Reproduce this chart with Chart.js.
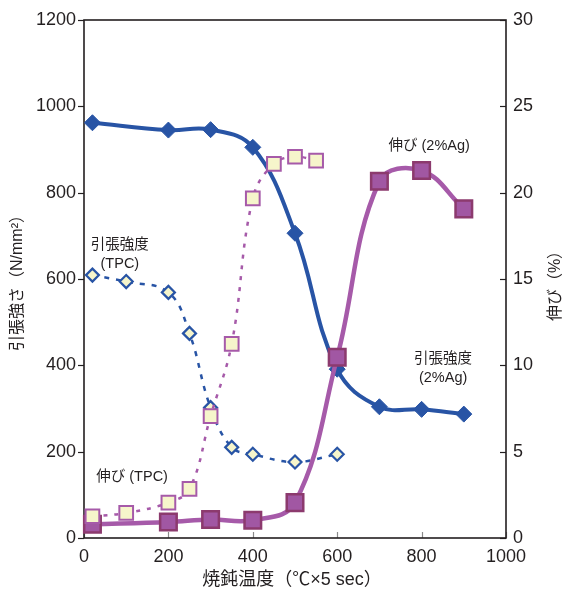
<!DOCTYPE html>
<html>
<head>
<meta charset="utf-8">
<script src="https://cdn.jsdelivr.net/npm/chart.js@4/dist/chart.umd.min.js"></script>
<style>
  html, body { margin: 0; padding: 0; background: #ffffff; }
  #wrap { width: 569px; height: 591px; position: relative; }
</style>
</head>
<body>
<div id="wrap"><canvas id="c" width="569" height="591"></canvas></div>
<script>
// Annealing temperature (°C, 5 sec hold)
const temps2Ag     = [20, 200, 300, 400, 500, 600, 700, 800, 900];
const tempsStrTPC  = [20, 100, 200, 250, 300, 350, 400, 500, 600];
const tempsElTPC   = [20, 100, 200, 250, 300, 350, 400, 450, 500, 550];

// Tensile strength (N/mm²) — left axis
const strength2Ag  = [962, 945, 946, 905, 706, 391, 304, 298, 287];
const strengthTPC  = [609, 594, 569, 474, 302, 210, 194, 176, 194];

// Elongation (%) — right axis
const elong2Ag     = [0.8, 0.93, 1.07, 1.03, 2.05, 10.47, 20.66, 21.28, 19.06];
const elongTPC     = [1.26, 1.45, 2.05, 2.84, 7.06, 11.24, 19.67, 21.67, 22.08, 21.86];

// Axis ticks
const xTicks  = [0, 200, 400, 600, 800, 1000];
const yTicks  = [0, 200, 400, 600, 800, 1000, 1200];
const y2Ticks = [0, 5, 10, 15, 20, 25, 30];

const pairs = (xs, ys) => xs.map((x, i) => ({ x, y: ys[i] }));

const BLUE = '#2854a5';
const PURPLE = '#a65aa9';
const PURPLE_FILL = '#a157a3';
const PURPLE_EDGE = '#8c3a6e';
const CREAM = '#f6f5cb';
const INK = '#231f20';

const LATIN = "'Liberation Sans', 'Noto Sans CJK JP', sans-serif";

// Frame, tick marks, axis titles and curve labels
const decor = {
  id: 'decor',
  beforeDatasetsDraw(chart) {
    const { ctx, chartArea: a, scales } = chart;
    ctx.save();
    ctx.lineWidth = 1.2;
    ctx.strokeStyle = INK;
    yTicks.forEach(v => {
      const p = Math.round(scales.y.getPixelForValue(v)) + 0.5;
      ctx.beginPath(); ctx.moveTo(a.left - 6, p); ctx.lineTo(a.left, p); ctx.stroke();
    });
    y2Ticks.forEach(v => {
      const p = Math.round(scales.y2.getPixelForValue(v)) + 0.5;
      ctx.beginPath(); ctx.moveTo(a.right - 6, p); ctx.lineTo(a.right, p); ctx.stroke();
    });
    ctx.strokeStyle = '#8a8a8a';
    xTicks.forEach(v => {
      const p = Math.round(scales.x.getPixelForValue(v)) + 0.5;
      ctx.beginPath(); ctx.moveTo(p, a.bottom - 6); ctx.lineTo(p, a.bottom); ctx.stroke();
    });
    ctx.strokeStyle = INK;
    ctx.lineWidth = 1.6;
    ctx.strokeRect(a.left, a.top, a.right - a.left, a.bottom - a.top);
    ctx.restore();
  },
  afterDraw(chart) {
    const { ctx, chartArea: a, scales } = chart;
    const sx = scales.x, sy = scales.y;
    ctx.save();
    ctx.fillStyle = INK;
    ctx.textAlign = 'center';
    ctx.textBaseline = 'middle';

    // axis titles
    ctx.font = '18px ' + LATIN;
    ctx.fillText('焼鈍温度（℃×5 sec）', (a.left + a.right) / 2 - 3, 580);

    ctx.font = '16px ' + LATIN;
    ctx.save();
    ctx.translate(18, (a.top + a.bottom) / 2);
    ctx.rotate(-Math.PI / 2);
    ctx.fillText('引張強さ（N/mm²）', 0, 0);
    ctx.restore();

    ctx.save();
    ctx.translate(556, (a.top + a.bottom) / 2 + 3);
    ctx.rotate(-Math.PI / 2);
    ctx.fillText('伸び（%）', 0, 0);
    ctx.restore();

    // curve labels
    ctx.font = '14.5px ' + LATIN;
    const labels = [
      ['引張強度', 85, 679], ['(TPC)', 85, 635],
      ['伸び (2%Ag)', 818, 909],
      ['引張強度', 851, 415], ['(2%Ag)', 851, 371],
      ['伸び (TPC)', 114, 141]
    ];
    labels.forEach(([t, x, y]) => ctx.fillText(t, sx.getPixelForValue(x), sy.getPixelForValue(y)));
    ctx.restore();
  }
};

const tickFont = { family: LATIN, size: 18 };
const plain = v => String(v);

new Chart(document.getElementById('c'), {
  type: 'line',
  data: {
    datasets: [
      {
        label: '伸び (TPC)',
        data: pairs(tempsElTPC, elongTPC),
        yAxisID: 'y2',
        order: 0,
        borderColor: PURPLE,
        borderWidth: 2.5,
        borderDash: [4, 7],
        tension: 0.4,
        pointStyle: 'rect',
        pointRadius: 9.7,
        pointBackgroundColor: CREAM,
        pointBorderColor: PURPLE,
        pointBorderWidth: 2,
        clip: false
      },
      {
        label: '伸び (2%Ag)',
        data: pairs(temps2Ag, elong2Ag),
        yAxisID: 'y2',
        order: 1,
        borderColor: PURPLE,
        borderWidth: 4.5,
        tension: 0.4,
        pointStyle: 'rect',
        pointRadius: 11.7,
        pointBackgroundColor: PURPLE_FILL,
        pointBorderColor: PURPLE_EDGE,
        pointBorderWidth: 2.5,
        clip: false
      },
      {
        label: '引張強度 (2%Ag)',
        data: pairs(temps2Ag, strength2Ag),
        yAxisID: 'y',
        order: 2,
        borderColor: BLUE,
        borderWidth: 4,
        tension: 0.4,
        pointStyle: 'rectRot',
        pointRadius: 8,
        pointBackgroundColor: BLUE,
        pointBorderColor: BLUE,
        pointBorderWidth: 1,
        clip: false
      },
      {
        label: '引張強度 (TPC)',
        data: pairs(tempsStrTPC, strengthTPC),
        yAxisID: 'y',
        order: 3,
        borderColor: BLUE,
        borderWidth: 2.5,
        borderDash: [5, 7],
        tension: 0.4,
        pointStyle: 'rectRot',
        pointRadius: 6.5,
        pointBackgroundColor: CREAM,
        pointBorderColor: BLUE,
        pointBorderWidth: 2.2,
        clip: false
      }
    ]
  },
  options: {
    responsive: false,
    animation: false,
    layout: { padding: { left: 24, right: 23, top: 20, bottom: 0 } },
    plugins: { legend: { display: false }, tooltip: { enabled: false } },
    scales: {
      x: {
        type: 'linear', position: 'bottom', min: 0, max: 1000,
        afterBuildTicks: s => { s.ticks = xTicks.map(v => ({ value: v })); },
        ticks: { font: tickFont, color: INK, padding: 8, maxRotation: 0, callback: plain },
        grid: { display: false, drawTicks: false },
        border: { display: false },
        afterFit: s => { s.height = 53; }
      },
      y: {
        type: 'linear', position: 'left', min: 0, max: 1200,
        afterBuildTicks: s => { s.ticks = yTicks.map(v => ({ value: v })); },
        ticks: { font: tickFont, color: INK, padding: 8, callback: plain },
        grid: { display: false, drawTicks: false },
        border: { display: false },
        afterFit: s => { s.width = 60; }
      },
      y2: {
        type: 'linear', position: 'right', min: 0, max: 30,
        afterBuildTicks: s => { s.ticks = y2Ticks.map(v => ({ value: v })); },
        ticks: { font: tickFont, color: INK, padding: 7, callback: plain },
        grid: { display: false, drawTicks: false },
        border: { display: false },
        afterFit: s => { s.width = 40; }
      }
    }
  },
  plugins: [decor]
});
</script>
</body>
</html>
